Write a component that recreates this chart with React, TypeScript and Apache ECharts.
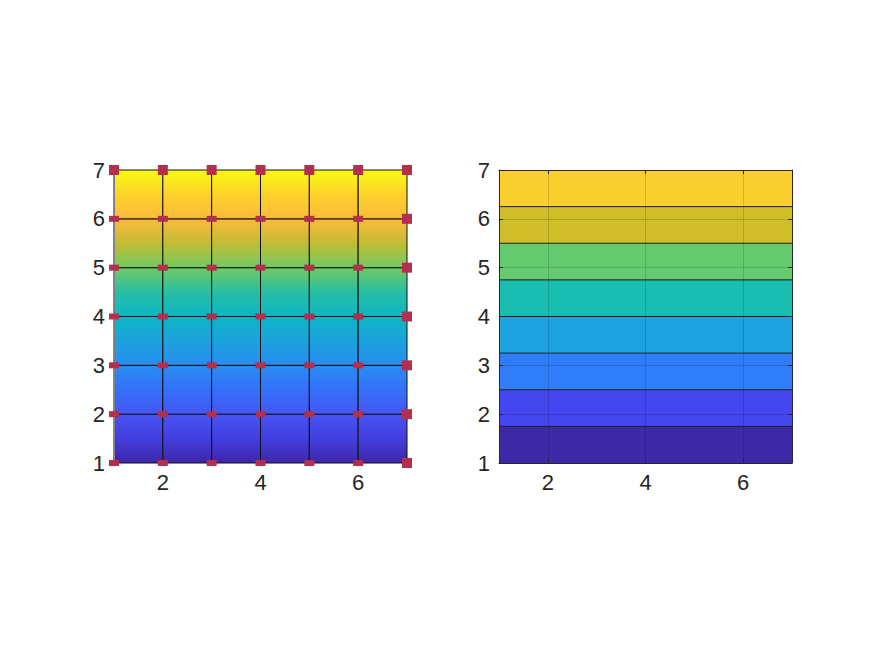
import React, { useEffect, useRef } from "react";
import * as echarts from "echarts";

// Surface grid (left) — z equals y
const X_VALUES = [1, 2, 3, 4, 5, 6, 7];
const Y_VALUES = [1, 2, 3, 4, 5, 6, 7];
const Z_RANGE = [1, 7];
const X_TICK_LABELS = [2, 4, 6];
const Y_TICK_LABELS = [1, 2, 3, 4, 5, 6, 7];

// Filled contour (right)
const CONTOUR_LEVELS = [1, 1.75, 2.5, 3.25, 4, 4.75, 5.5, 6.25, 7];
const BAND_COLORS = ["#3D28A5", "#4446EE", "#2F7DFA", "#1EA2DF", "#1ABEB0", "#64CB6E", "#D0BE28", "#FAD030"];

// parula-like colormap
const PARULA = [
  [62, 38, 168], [67, 62, 222], [70, 85, 243], [52, 112, 250], [40, 140, 240],
  [28, 162, 222], [12, 182, 196], [40, 190, 165], [112, 202, 98], [195, 188, 52],
  [252, 186, 60], [252, 210, 42], [249, 251, 20],
];

function cmap(t: number): string {
  const tt = Math.max(0, Math.min(1, t));
  const f = tt * (PARULA.length - 1);
  const i = Math.min(PARULA.length - 2, Math.floor(f));
  const r = f - i;
  const a = PARULA[i], b = PARULA[i + 1];
  const c = a.map((v, k) => Math.round(v + (b[k] - v) * r));
  return `rgb(${c[0]},${c[1]},${c[2]})`;
}

const TEXT = "#262626";
const FONT = "'Liberation Sans', Arial, sans-serif";
const FS = 22;

export default function App() {
  const ref = useRef<HTMLDivElement>(null);
  useEffect(() => {
    if (!ref.current) return;
    const chart = echarts.init(ref.current, undefined, { renderer: "svg" });

    const cells: number[][] = [];
    for (let i = 0; i < X_VALUES.length - 1; i++) {
      for (let j = 0; j < Y_VALUES.length - 1; j++) {
        cells.push([X_VALUES[i], Y_VALUES[j], X_VALUES[i + 1], Y_VALUES[j + 1]]);
      }
    }
    const points: any[] = [];
    X_VALUES.forEach((x) => {
      Y_VALUES.forEach((y) => {
        const full = y === Y_VALUES[Y_VALUES.length - 1] || x === X_VALUES[X_VALUES.length - 1];
        points.push({ value: [x, y], symbolSize: full ? [10, 10] : [10, 6] });
      });
    });
    const bands = CONTOUR_LEVELS.slice(0, -1).map((l, i) => [l, CONTOUR_LEVELS[i + 1]]);

    const xMin = X_VALUES[0], xMax = X_VALUES[X_VALUES.length - 1];
    const yMin = Y_VALUES[0], yMax = Y_VALUES[Y_VALUES.length - 1];

    const xLabel = {
      fontSize: FS, color: TEXT, fontFamily: FONT, margin: 8,
      formatter: (v: number) => (X_TICK_LABELS.indexOf(v) >= 0 ? String(v) : ""),
      showMinLabel: false, showMaxLabel: false,
    };
    const yLabel = {
      fontSize: FS, color: TEXT, fontFamily: FONT, margin: 9,
      formatter: (v: number) => (Y_TICK_LABELS.indexOf(v) >= 0 ? String(v) : ""),
    };

    chart.setOption({
      animation: false,
      grid: [
        { left: 114, top: 170, width: 293, height: 293 },
        { left: 499, top: 170, width: 293, height: 293 },
      ],
      xAxis: [
        {
          gridIndex: 0, type: "value", min: xMin, max: xMax, splitNumber: 3,
          axisLine: { show: false }, axisTick: { show: false }, splitLine: { show: false },
          axisLabel: xLabel,
        },
        {
          gridIndex: 1, type: "value", min: xMin, max: xMax, splitNumber: 3, z: 5,
          axisLine: { show: true, lineStyle: { color: TEXT, width: 1 } },
          axisTick: { show: true, inside: true, length: 4, lineStyle: { color: TEXT } },
          splitLine: { show: true, lineStyle: { color: "rgba(0,0,0,0.15)", width: 1 } },
          axisLabel: xLabel,
        },
        {
          gridIndex: 1, type: "value", position: "top", min: xMin, max: xMax, splitNumber: 3, z: 5,
          axisLine: { show: true, lineStyle: { color: TEXT, width: 1 } },
          axisTick: { show: true, inside: true, length: 4, lineStyle: { color: TEXT } },
          splitLine: { show: false }, axisLabel: { show: false },
        },
      ],
      yAxis: [
        {
          gridIndex: 0, type: "value", min: yMin, max: yMax, interval: 1, z: 3,
          axisLine: { show: true, lineStyle: { color: "#808080", width: 1 } },
          axisTick: { show: false }, splitLine: { show: false },
          axisLabel: yLabel,
        },
        {
          gridIndex: 1, type: "value", min: yMin, max: yMax, interval: 1, z: 5,
          axisLine: { show: true, lineStyle: { color: TEXT, width: 1 } },
          axisTick: { show: true, inside: true, length: 4, lineStyle: { color: TEXT } },
          splitLine: { show: true, lineStyle: { color: "rgba(0,0,0,0.15)", width: 1 } },
          axisLabel: yLabel,
        },
        {
          gridIndex: 1, type: "value", position: "right", min: yMin, max: yMax, interval: 1, z: 5,
          axisLine: { show: true, lineStyle: { color: TEXT, width: 1 } },
          axisTick: { show: true, inside: true, length: 4, lineStyle: { color: TEXT } },
          splitLine: { show: false }, axisLabel: { show: false },
        },
      ],
      series: [
        {
          type: "custom",
          xAxisIndex: 0, yAxisIndex: 0, z: 2,
          data: cells,
          renderItem: (params: any, api: any) => {
            const x0 = api.value(0), y0 = api.value(1), x1 = api.value(2), y1 = api.value(3);
            const tl = api.coord([x0, y1]);
            const br = api.coord([x1, y0]);
            const stops: any[] = [];
            for (let k = 0; k <= 6; k++) {
              const f = k / 6;
              const yv = y1 - f * (y1 - y0);
              stops.push({ offset: f, color: cmap((yv - Z_RANGE[0]) / (Z_RANGE[1] - Z_RANGE[0])) });
            }
            return {
              type: "rect",
              shape: { x: tl[0], y: tl[1], width: br[0] - tl[0], height: br[1] - tl[1] },
              style: {
                fill: { type: "linear", x: 0, y: 0, x2: 0, y2: 1, colorStops: stops },
                stroke: "#111111", lineWidth: 1,
              },
            };
          },
        },
        {
          type: "scatter",
          xAxisIndex: 0, yAxisIndex: 0, z: 6,
          symbol: "rect",
          itemStyle: { color: "#B2304D", opacity: 1 },
          data: points,
        },
        {
          type: "custom",
          xAxisIndex: 1, yAxisIndex: 1, z: 2,
          data: bands,
          renderItem: (params: any, api: any) => {
            const l0 = api.value(0), l1 = api.value(1);
            const tl = api.coord([xMin, l1]);
            const br = api.coord([xMax, l0]);
            const children: any[] = [
              {
                type: "rect",
                shape: { x: tl[0], y: tl[1], width: br[0] - tl[0], height: br[1] - tl[1] },
                style: { fill: BAND_COLORS[params.dataIndex] },
              },
            ];
            if (l0 > CONTOUR_LEVELS[0]) {
              children.push({
                type: "line",
                shape: { x1: tl[0], y1: br[1], x2: br[0], y2: br[1] },
                style: { stroke: "#1a1a1a", lineWidth: 1 },
              });
            }
            return { type: "group", children };
          },
        },
      ],
    });
    return () => chart.dispose();
  }, []);
  return <div ref={ref} style={{ position: "absolute", left: 0, top: 0, width: 875, height: 656 }} />;
}
